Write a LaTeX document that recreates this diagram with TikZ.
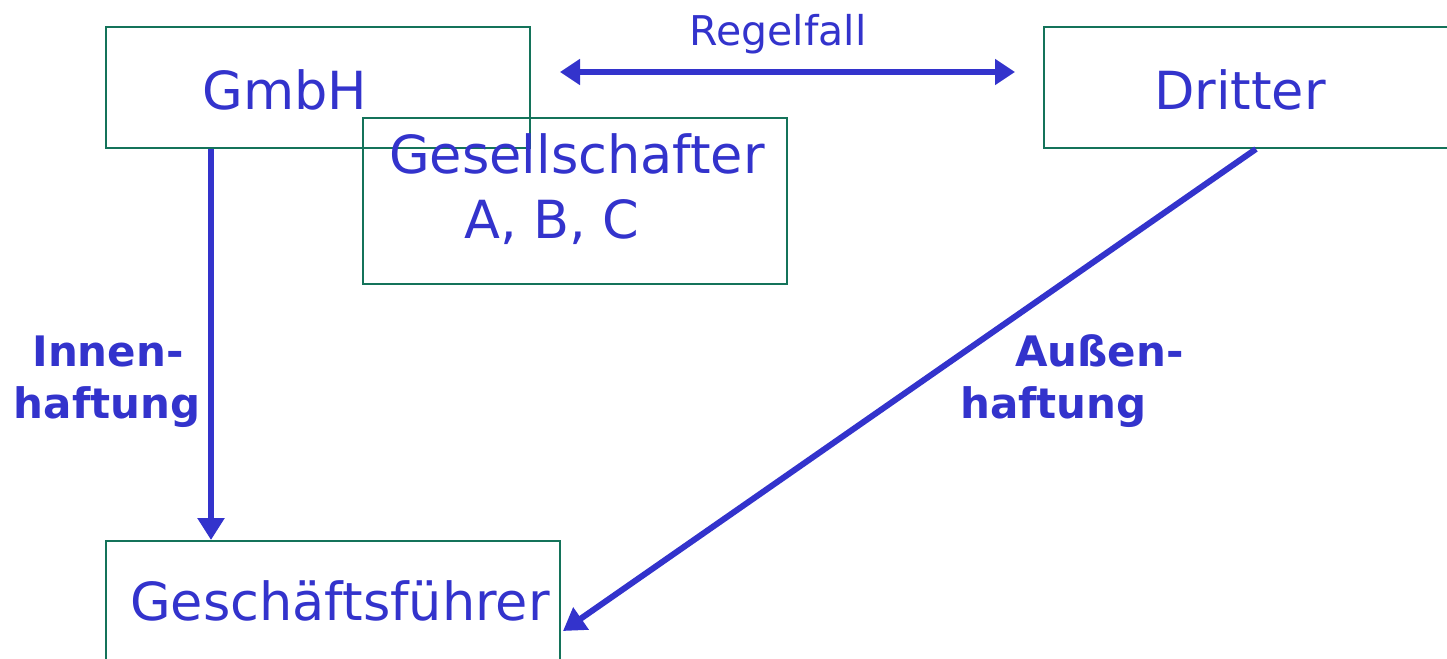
\documentclass[tikz,border=0pt]{standalone}
\usepackage{fontspec}
\setmainfont{DejaVu Sans}
\usetikzlibrary{arrows.meta}
\definecolor{txtblue}{RGB}{51,51,204}
\definecolor{boxgreen}{RGB}{20,115,90}
\tikzset{
  box/.style={draw=boxgreen, line width=2pt, rectangle, inner sep=0pt},
  bigtext/.style={text=txtblue, font=\fontsize{52.5}{60}\selectfont, inner sep=0pt, anchor=base},
  midtext/.style={text=txtblue, font=\fontsize{41}{48}\selectfont, inner sep=0pt, anchor=base},
  boldtext/.style={text=txtblue, font=\fontsize{42}{48}\selectfont\bfseries, inner sep=0pt, anchor=base},
  arr/.style={draw=txtblue, line width=6pt, -{Triangle[length=22pt,width=26pt]}},
  darr/.style={draw=txtblue, line width=6pt, {Triangle[length=20pt,width=25pt]}-{Triangle[length=20pt,width=25pt]}}
}
\begin{document}
\begin{tikzpicture}[x=1pt,y=-1pt]
\useasboundingbox (0,0) rectangle (1447,658);
\clip (0,0) rectangle (1447,658);
% boxes
\node[box, minimum width=424pt, minimum height=121pt] (gmbh) at (318,87.5) {};
\node[box, minimum width=424pt, minimum height=166pt] (ges) at (575,201) {};
\node[box, minimum width=460pt, minimum height=121pt] (dritter) at (1274,87.5) {};
\node[box, minimum width=454pt, minimum height=180pt] (gf) at (333,631) {};
% texts
\node[bigtext] (tgmbh) at (285,110) {GmbH};
\node[bigtext] (tges) at (577,173) {Gesellschafter};
\node[bigtext] (tabc) at (552,238) {A, B, C};
\node[bigtext] (tdritter) at (1240,110) {Dritter};
\node[bigtext] (tgf) at (340,620) {Geschäftsführer};
\node[midtext] (tregel) at (778,46) {Regelfall};
\node[boldtext] (tinnen1) at (108,366) {Innen-};
\node[boldtext] (tinnen2) at (107,418) {haftung};
\node[boldtext, anchor=base west] (taussen1) at (1015,366) {Außen-};
\node[boldtext, anchor=base west] (taussen2) at (960,418) {haftung};
% connectors
\coordinate (r1) at (560,72);
\coordinate (r2) at (1015,72);
\draw[darr] (r1) -- (r2);
\draw[arr] ([xshift=106pt]gmbh.south west) -- ([xshift=106pt]gf.north west);
\draw[arr] ([xshift=-18pt]dritter.south) -- ([xshift=2pt]gf.east);
\end{tikzpicture}
\end{document}
